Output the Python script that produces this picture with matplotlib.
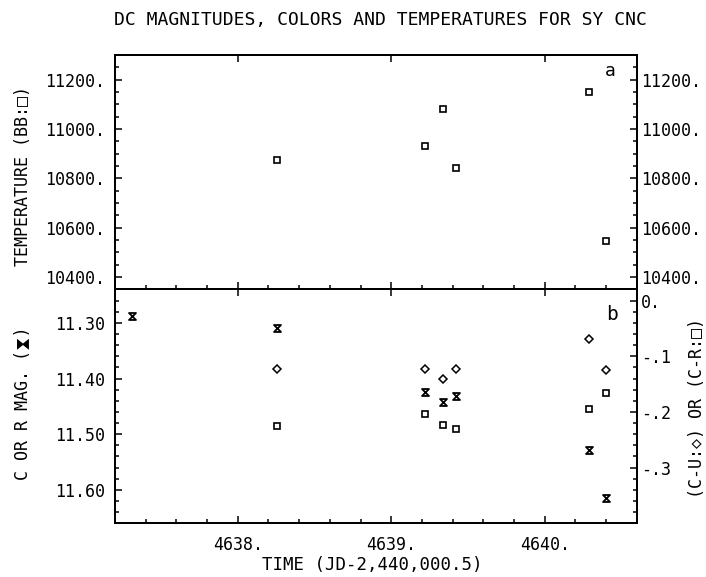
import matplotlib.pyplot as plt
from matplotlib import font_manager
from matplotlib.ft2font import FT2Font
from matplotlib.path import Path
from matplotlib.ticker import MultipleLocator

plt.rcParams['font.family'] = ['DejaVu Sans Mono', 'DejaVu Sans']

# observing epochs (JD - 2,440,000.5)
times = [4638.256, 4639.220, 4639.339, 4639.424, 4640.291, 4640.398]
mag_times = [4637.313, 4638.256, 4639.220, 4639.339, 4639.424, 4640.291, 4640.398]

# panel a: black-body temperature
temp_bb = [10873, 10932, 11080, 10844, 11150, 10547]

# panel b: C or R magnitude (left axis) and colours (right axis)
mag_cr = [11.288, 11.310, 11.425, 11.442, 11.431, 11.528, 11.614]
c_minus_u = [-0.122, -0.123, -0.140, -0.123, -0.069, -0.125]
c_minus_r = [-0.225, -0.204, -0.224, -0.231, -0.195, -0.166]

x_ticks = [4638, 4639, 4640]
x_labels = ['4638.', '4639.', '4640.']
temp_ticks = [10400, 10600, 10800, 11000, 11200]
temp_labels = ['10400.', '10600.', '10800.', '11000.', '11200.']
mag_ticks = [11.30, 11.40, 11.50, 11.60]
mag_labels = ['11.30', '11.40', '11.50', '11.60']
col_ticks = [0.0, -0.1, -0.2, -0.3]
col_labels = ['0.', '-.1', '-.2', '-.3']

hourglass = Path([(-1, 1), (1, 1), (-1, -1), (1, -1), (-1, 1)],
                 [Path.MOVETO, Path.LINETO, Path.LINETO, Path.LINETO, Path.CLOSEPOLY])
bowtie = Path([(-1, 1), (-1, -1), (1, 1), (1, -1), (-1, 1)],
              [Path.MOVETO, Path.LINETO, Path.LINETO, Path.LINETO, Path.CLOSEPOLY])


def family_with(ch):
    # look for an installed font that has the glyph
    for f in font_manager.fontManager.ttflist:
        try:
            if ord(ch) in FT2Font(f.fname).get_charmap():
                return f.name
        except Exception:
            pass
    return None


fig = plt.figure(figsize=(7.06, 5.77), dpi=100)
ax1 = fig.add_axes([0.1629, 0.4983, 0.739, 0.4064])
ax2 = fig.add_axes([0.1629, 0.0931, 0.739, 0.4052])
ax1r = ax1.twinx()
ax2r = ax2.twinx()


def style(ax):
    for s in ax.spines.values():
        s.set_linewidth(1.4)
    ax.tick_params(which='both', direction='in', width=1.1, labelsize=12)
    ax.tick_params(which='major', length=5)
    ax.tick_params(which='minor', length=3)


for ax in (ax1, ax2, ax1r, ax2r):
    style(ax)
    ax.set_xlim(4637.2, 4640.6)

# ---- panel a
ax1.plot(times, temp_bb, ls='none', marker='s', ms=5, mfc='none', mec='black', mew=1.2)
for a in (ax1, ax1r):
    a.set_ylim(10350, 11300)
    a.set_yticks(temp_ticks)
    a.yaxis.set_minor_locator(MultipleLocator(50))
ax1.set_yticklabels(temp_labels)
ax1r.set_yticklabels(temp_labels)
ax1.set_xticks(x_ticks)
ax1.xaxis.set_minor_locator(MultipleLocator(0.2))
ax1.tick_params(axis='x', top=True, labelbottom=False)
ax1.tick_params(axis='y', pad=7)
ax1r.tick_params(axis='y', pad=3)
ax1.text(0.949, 0.93, 'a', transform=ax1.transAxes, fontsize=13,
         ha='center', va='center')

# ---- panel b
ax2.plot(mag_times, mag_cr, ls='none', marker=hourglass, ms=5, mfc='none',
         mec='black', mew=1.3)
ax2.set_ylim(11.66, 11.24)
ax2.set_yticks(mag_ticks)
ax2.set_yticklabels(mag_labels)
ax2.yaxis.set_minor_locator(MultipleLocator(0.02))
ax2.set_xticks(x_ticks)
ax2.set_xticklabels(x_labels)
ax2.xaxis.set_minor_locator(MultipleLocator(0.2))
ax2.tick_params(axis='x', top=True, pad=9)
ax2.tick_params(axis='y', pad=7)

ax2r.plot(times, c_minus_u, ls='none', marker='D', ms=3.6, mfc='none', mec='black', mew=1.1)
ax2r.plot(times, c_minus_r, ls='none', marker='s', ms=5, mfc='none', mec='black', mew=1.2)
ax2r.set_ylim(-0.40, 0.02)
ax2r.set_yticks(col_ticks)
ax2r.set_yticklabels(col_labels)
ax2r.yaxis.set_minor_locator(MultipleLocator(0.02))
ax2r.tick_params(axis='y', pad=3)
ax2.text(0.953, 0.893, 'b', transform=ax2.transAxes, fontsize=14,
         ha='center', va='center')

# ---- labels
fig.text(380 / 706, 1 - 20 / 577, 'DC MAGNITUDES, COLORS AND TEMPERATURES FOR SY CNC',
         ha='center', va='center', fontsize=13)
fig.text(372 / 706, 1 - 565 / 577, 'TIME (JD-2,440,000.5)',
         ha='center', va='center', fontsize=12.5)
fig.text(23 / 706, 1 - 176 / 577, 'TEMPERATURE (BB:□)', rotation=90,
         ha='center', va='center', fontsize=12)

mag_label = 'C OR R MAG. (⧗)'
fam = family_with('⧗')
if fam is not None:
    fig.text(23 / 706, 1 - 403 / 577, mag_label, rotation=90, ha='center',
             va='center', fontsize=12, family=['DejaVu Sans Mono', fam])
else:
    # no installed font has the hourglass: leave a gap and draw the symbol
    fig.text(23 / 706, 1 - 403 / 577, mag_label.replace('⧗', ' '), rotation=90,
             ha='center', va='center', fontsize=12)
    adv = 0.602 * 12 / 72 * 100  # monospace advance in pixels
    i = mag_label.index('⧗')
    y_sym = 403 - (i - (len(mag_label) - 1) / 2) * adv
    fig.lines.append(plt.Line2D([23 / 706], [1 - y_sym / 577], transform=fig.transFigure,
                                ls='none', marker=bowtie, ms=5.5, mfc='none',
                                mec='black', mew=1.3))

fig.text(697 / 706, 1 - 408 / 577, '(C-U:◇) OR (C-R:□)', rotation=90,
         ha='center', va='center', fontsize=12)

fig.savefig('out.png', dpi=100)
